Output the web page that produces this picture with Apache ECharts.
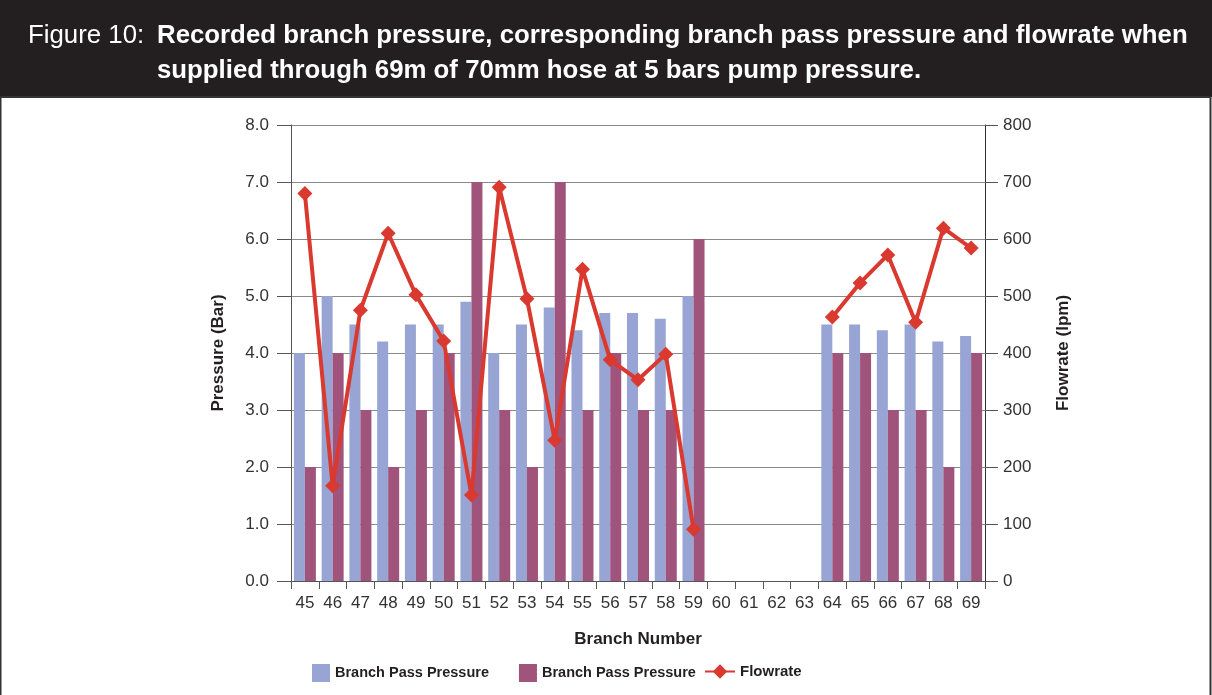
<!DOCTYPE html>
<html>
<head>
<meta charset="utf-8">
<script src="https://cdn.jsdelivr.net/npm/echarts@6/dist/echarts.min.js"></script>
<style>
  html, body { margin: 0; padding: 0; background: #fff; }
  #chart { width: 1212px; height: 695px; }
</style>
</head>
<body>
<div id="chart"></div>
<script>
var branches = ['45', '46', '47', '48', '49', '50', '51', '52', '53', '54', '55', '56', '57', '58', '59', '60', '61', '62', '63', '64', '65', '66', '67', '68', '69']
var passPressureA = [4.0, 5.0, 4.5, 4.2, 4.5, 4.5, 4.9, 4.0, 4.5, 4.8, 4.4, 4.7, 4.7, 4.6, 5.0, null, null, null, null, 4.5, 4.5, 4.4, 4.5, 4.2, 4.3]
var passPressureB = [2, 4, 3, 2, 3, 4, 7, 3, 2, 7, 3, 4, 3, 3, 6, null, null, null, null, 4, 4, 3, 3, 2, 4]
var flowrate = [680, 167, 475, 610, 502, 421, 151, 691, 495, 247, 547, 388, 353, 398, 91, null, null, null, null, 463, 523, 572, 454, 619, 584]

var FONT = '"Liberation Sans", Arial, sans-serif'
var chart = echarts.init(document.getElementById('chart'))

chart.setOption({
  animation: false,
  textStyle: { fontFamily: FONT },
  graphic: [
    { type: 'rect', shape: { x: 0, y: 0, width: 1212, height: 97 }, style: { fill: '#231f20' } },
    { type: 'rect', shape: { x: 0.5, y: 97, width: 1210, height: 700 }, style: { fill: 'none', stroke: '#333', lineWidth: 2 } },
    { type: 'text', left: 28, top: 23, style: { text: 'Figure 10:', fill: '#fff', font: '25.8px ' + FONT } },
    { type: 'text', left: 157, top: 23, style: { text: 'Recorded branch pressure, corresponding branch pass pressure and flowrate when', fill: '#fff', font: 'bold 25.8px ' + FONT } },
    { type: 'text', left: 157, top: 58, style: { text: 'supplied through 69m of 70mm hose at 5 bars pump pressure.', fill: '#fff', font: 'bold 25.8px ' + FONT } }
  ],
  legend: [
    {
      left: 307,
      top: 659,
      itemWidth: 18,
      itemHeight: 18,
      itemGap: 30,
      icon: 'rect',
      data: ['Branch Pass Pressure', 'Branch Pass Pressure '],
      formatter: function (name) { return name.trim() },
      textStyle: { fontSize: 14.5, fontWeight: 'bold', color: '#231f20', fontFamily: FONT }
    },
    {
      left: 699,
      top: 659,
      itemWidth: 30,
      itemHeight: 18,
      data: ['Flowrate'],
      textStyle: { fontSize: 15, fontWeight: 'bold', color: '#231f20', fontFamily: FONT }
    }
  ],
  grid: {
    left: 291,
    right: 227,
    top: 125,
    bottom: 114
  },
  xAxis: {
    type: 'category',
    data: branches,
    name: 'Branch Number',
    nameLocation: 'middle',
    nameGap: 50,
    nameTextStyle: { fontSize: 17, fontWeight: 'bold', color: '#231f20' },
    axisLine: { lineStyle: { color: '#555', width: 1 } },
    axisTick: { show: true, length: 8, lineStyle: { color: '#555' } },
    axisLabel: { fontSize: 17, color: '#333', margin: 14 }
  },
  yAxis: [
    {
      type: 'value',
      min: 0,
      max: 8,
      interval: 1,
      name: 'Pressure (Bar)',
      nameLocation: 'middle',
      nameGap: 64,
      nameTextStyle: { fontSize: 17, fontWeight: 'bold', color: '#231f20' },
      axisLine: { show: true, lineStyle: { color: '#555' } },
      axisTick: { show: true, length: 14, lineStyle: { color: '#555' } },
      axisLabel: { fontSize: 17, color: '#333', margin: 22, formatter: function (v) { return v.toFixed(1) } },
      splitLine: { lineStyle: { color: '#8a8a8a', width: 1 } }
    },
    {
      type: 'value',
      min: 0,
      max: 800,
      interval: 100,
      name: 'Flowrate (lpm)',
      nameLocation: 'middle',
      nameGap: 70,
      nameTextStyle: { fontSize: 17, fontWeight: 'bold', color: '#231f20' },
      axisLine: { show: true, lineStyle: { color: '#333' } },
      axisTick: { show: true, length: 13, lineStyle: { color: '#555' } },
      axisLabel: { fontSize: 17, color: '#333', margin: 18 },
      splitLine: { show: false }
    }
  ],
  series: [
    {
      name: 'Branch Pass Pressure',
      type: 'bar',
      data: passPressureA,
      barWidth: 11,
      barGap: '0%',
      itemStyle: { color: '#98a4d3' }
    },
    {
      name: 'Branch Pass Pressure ',
      type: 'bar',
      data: passPressureB,
      barWidth: 11,
      itemStyle: { color: '#a0537b' }
    },
    {
      name: 'Flowrate',
      type: 'line',
      yAxisIndex: 1,
      data: flowrate,
      connectNulls: false,
      symbol: 'diamond',
      symbolSize: 15,
      lineStyle: { color: '#d9392e', width: 4 },
      itemStyle: { color: '#d9392e' }
    }
  ]
})
</script>
</body>
</html>
